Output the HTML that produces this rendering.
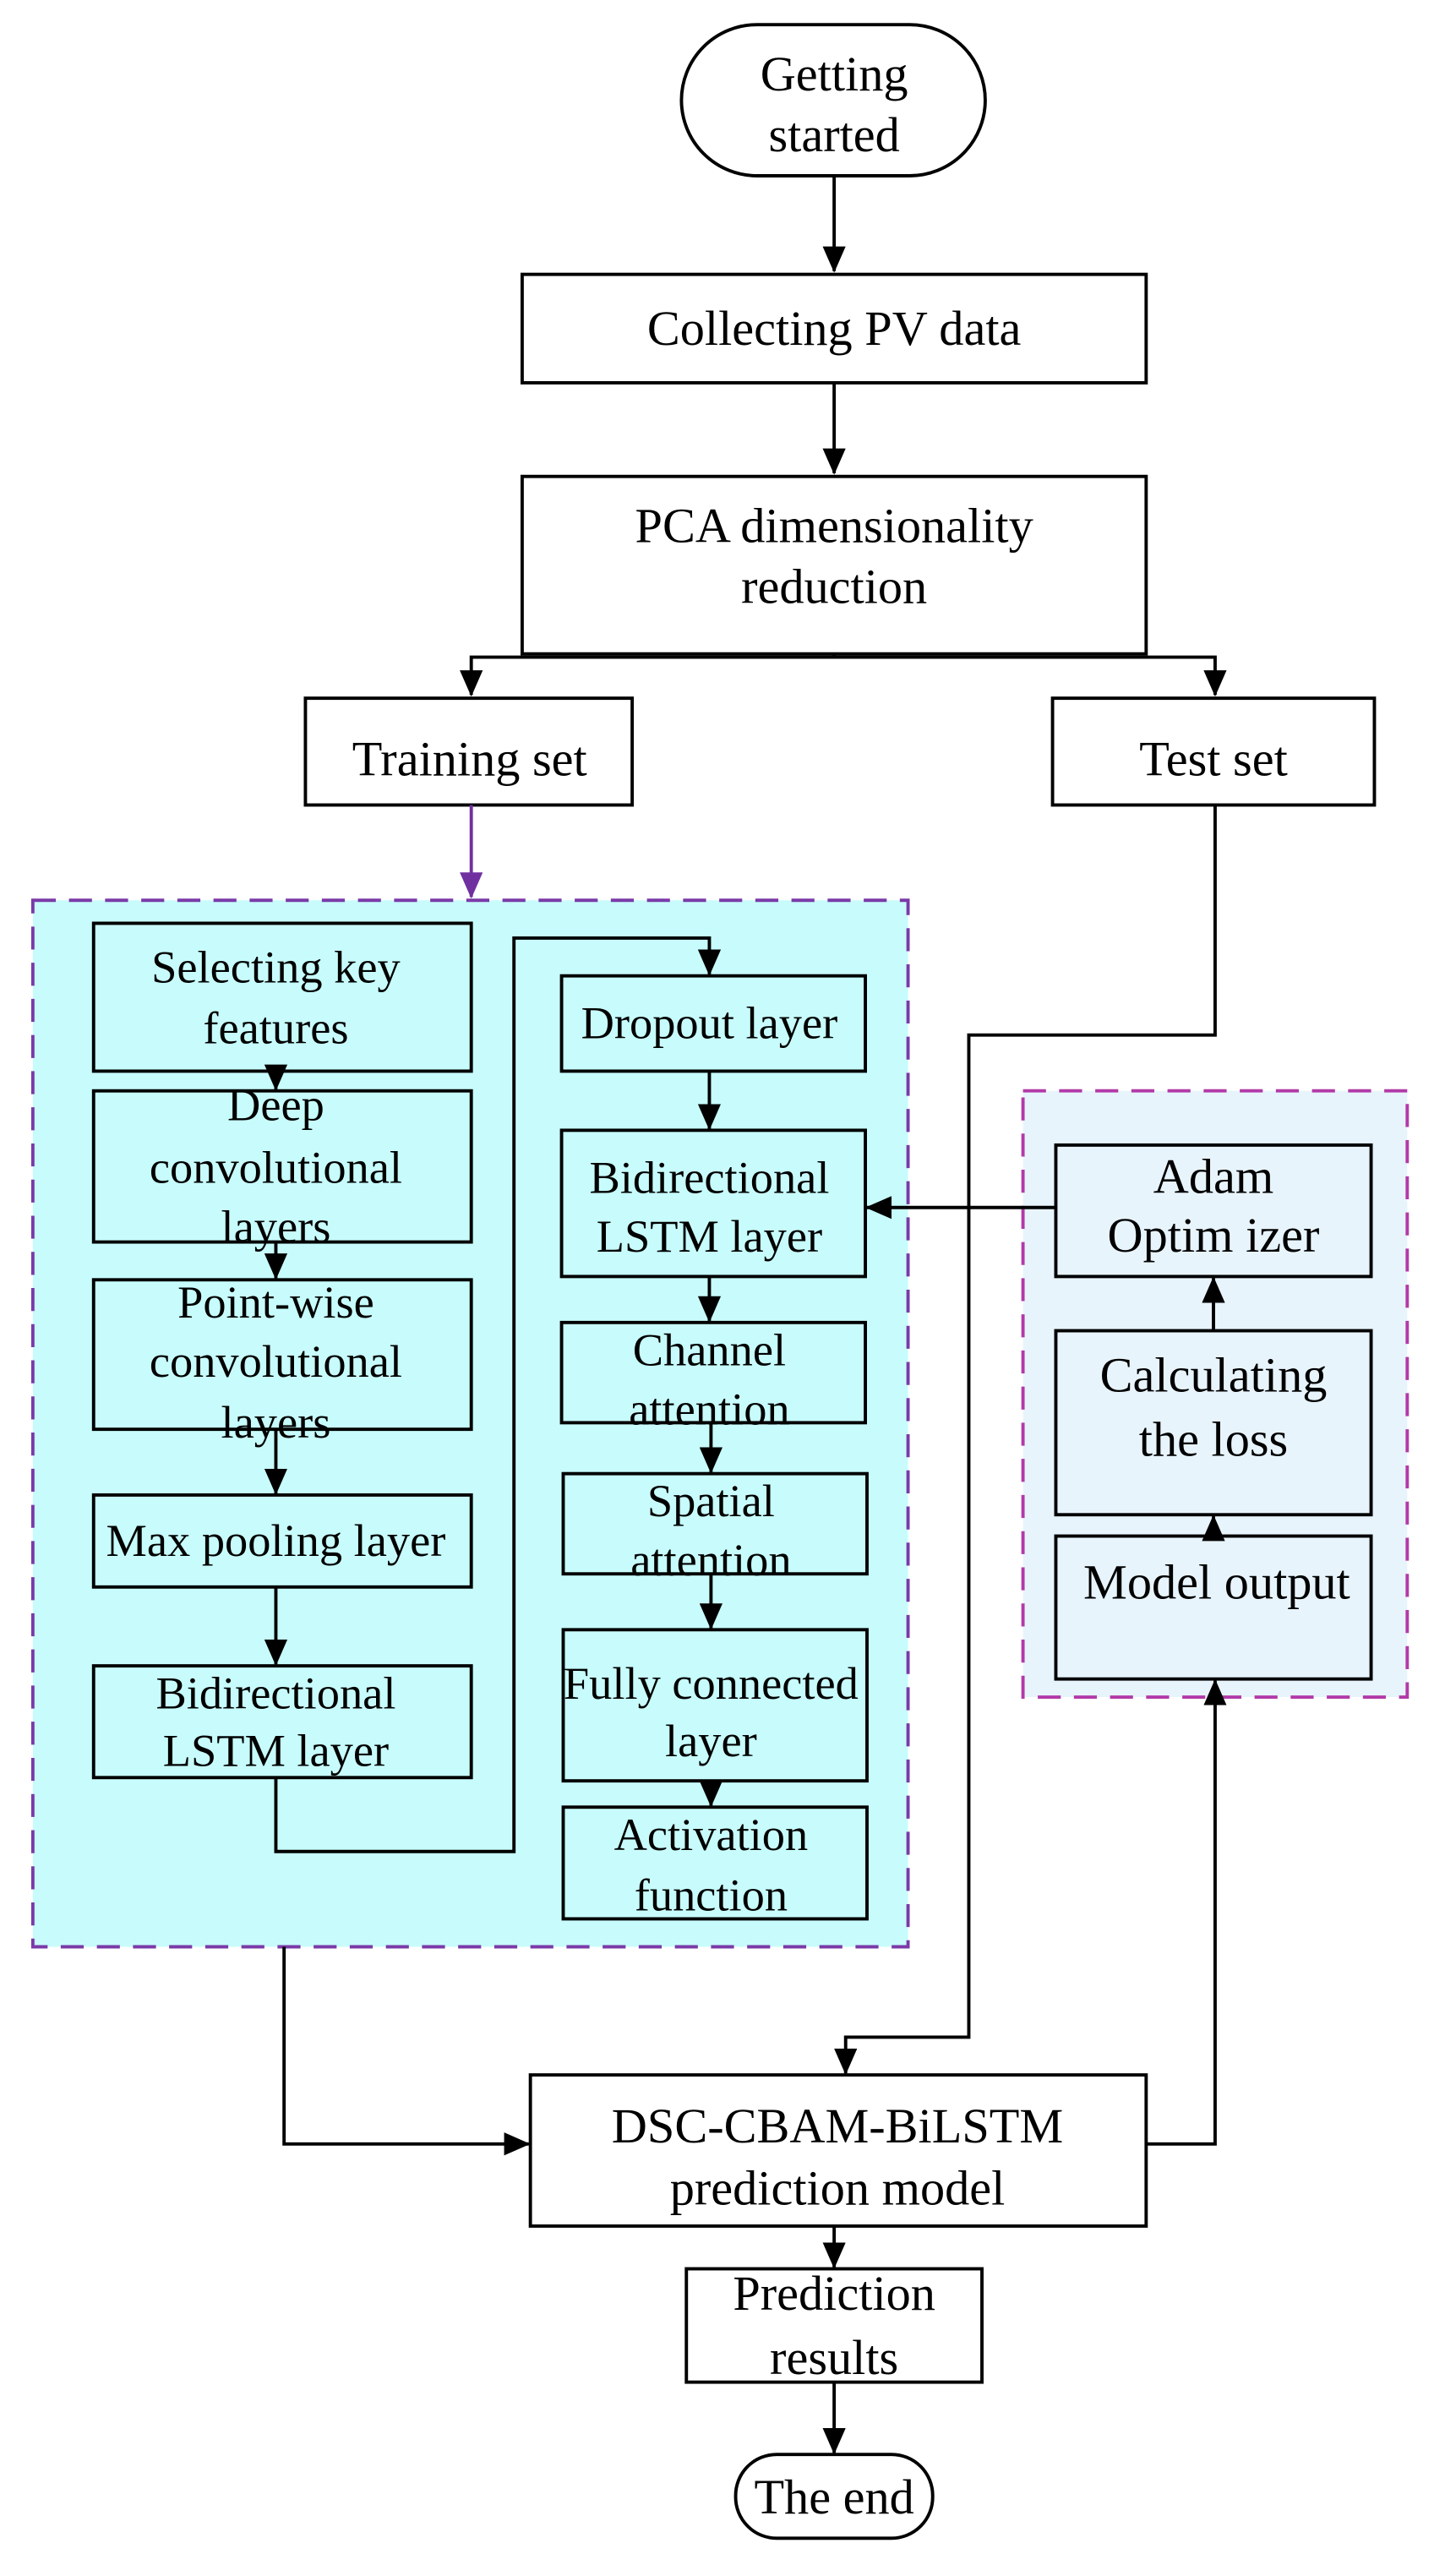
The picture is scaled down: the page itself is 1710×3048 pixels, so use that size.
<!DOCTYPE html>
<html><head><meta charset="utf-8"><style>
html,body{margin:0;padding:0;background:#fff;}
svg{display:block;}
text{font-family:"Liberation Serif",serif;fill:#000;text-anchor:middle;}
</style></head><body>
<svg width="1710" height="3048" viewBox="0 0 880 1568" preserveAspectRatio="none" xmlns="http://www.w3.org/2000/svg">
<defs>
<marker id="a" markerWidth="16" markerHeight="14" refX="15" refY="7" orient="auto" markerUnits="userSpaceOnUse"><path d="M0,0 L16,7 L0,14 z" fill="#000"/></marker>
<marker id="ap" markerWidth="16" markerHeight="14" refX="15" refY="7" orient="auto" markerUnits="userSpaceOnUse"><path d="M0,0 L16,7 L0,14 z" fill="#7030a0"/></marker>
</defs>
<g stroke="#000" stroke-width="2" fill="none">
<rect x="20" y="548" width="533" height="637" fill="#c8fcfc" stroke="#7a3aa8" stroke-dasharray="14,8"/>
<rect x="623" y="664" width="234" height="369" fill="#e8f4fc" stroke="#b23aa8" stroke-dasharray="14,8"/>
<rect x="415" y="15" width="185" height="92" rx="46" fill="#fff"/>
<rect x="318" y="167" width="380" height="66" fill="#fff"/>
<rect x="318" y="290" width="380" height="108" fill="#fff"/>
<rect x="186" y="425" width="199" height="65" fill="#fff"/>
<rect x="641" y="425" width="196" height="65" fill="#fff"/>
<rect x="323" y="1263" width="375" height="92" fill="#fff"/>
<rect x="418" y="1381" width="180" height="69" fill="#fff"/>
<rect x="448" y="1494" width="120" height="51" rx="25" fill="#fff"/>
<rect x="57" y="562" width="230" height="90" fill="#c8fcfc"/>
<rect x="57" y="664" width="230" height="92" fill="#c8fcfc"/>
<rect x="57" y="779" width="230" height="91" fill="#c8fcfc"/>
<rect x="57" y="910" width="230" height="56" fill="#c8fcfc"/>
<rect x="57" y="1014" width="230" height="68" fill="#c8fcfc"/>
<rect x="342" y="594" width="185" height="58" fill="#c8fcfc"/>
<rect x="342" y="688" width="185" height="89" fill="#c8fcfc"/>
<rect x="342" y="805" width="185" height="61" fill="#c8fcfc"/>
<rect x="343" y="897" width="185" height="61" fill="#c8fcfc"/>
<rect x="343" y="992" width="185" height="92" fill="#c8fcfc"/>
<rect x="343" y="1100" width="185" height="68" fill="#c8fcfc"/>
<rect x="643" y="697" width="192" height="80" fill="#e8f4fc"/>
<rect x="643" y="810" width="192" height="112" fill="#e8f4fc"/>
<rect x="643" y="935" width="192" height="87" fill="#e8f4fc"/>
<line x1="508" y1="107" x2="508" y2="165" marker-end="url(#a)"/>
<line x1="508" y1="233" x2="508" y2="288" marker-end="url(#a)"/>
<polyline points="508,398 508,400 287,400 287,423" marker-end="url(#a)"/>
<polyline points="508,400 740,400 740,423" marker-end="url(#a)"/>
<line x1="287" y1="490" x2="287" y2="546" stroke="#7030a0" marker-end="url(#ap)"/>
<line x1="168" y1="652" x2="168" y2="663" marker-end="url(#a)"/>
<line x1="168" y1="756" x2="168" y2="778" marker-end="url(#a)"/>
<line x1="168" y1="870" x2="168" y2="909" marker-end="url(#a)"/>
<line x1="168" y1="966" x2="168" y2="1013" marker-end="url(#a)"/>
<polyline points="168,1082 168,1127 313,1127 313,571 432,571 432,593" marker-end="url(#a)"/>
<line x1="432" y1="652" x2="432" y2="687" marker-end="url(#a)"/>
<line x1="432" y1="777" x2="432" y2="804" marker-end="url(#a)"/>
<line x1="433" y1="866" x2="433" y2="896" marker-end="url(#a)"/>
<line x1="433" y1="958" x2="433" y2="991" marker-end="url(#a)"/>
<line x1="433" y1="1084" x2="433" y2="1099" marker-end="url(#a)"/>
<line x1="643" y1="735" x2="528" y2="735" marker-end="url(#a)"/>
<line x1="739" y1="810" x2="739" y2="778" marker-end="url(#a)"/>
<line x1="739" y1="935" x2="739" y2="923" marker-end="url(#a)"/>
<polyline points="740,490 740,630 590,630 590,1240 515,1240 515,1262" marker-end="url(#a)"/>
<polyline points="173,1185 173,1305 322,1305" marker-end="url(#a)"/>
<polyline points="698,1305 740,1305 740,1023" marker-end="url(#a)"/>
<line x1="508" y1="1355" x2="508" y2="1380" marker-end="url(#a)"/>
<line x1="508" y1="1450" x2="508" y2="1493" marker-end="url(#a)"/>
</g>
<g font-size="30">
<text x="508" y="55">Getting</text><text x="508" y="92">started</text>
<text x="508" y="210">Collecting PV data</text>
<text x="508" y="330">PCA dimensionality</text><text x="508" y="367">reduction</text>
<text x="286" y="472">Training set</text>
<text x="739" y="472">Test set</text>
<text x="510" y="1304">DSC-CBAM-BiLSTM</text><text x="510" y="1342">prediction model</text>
<text x="508" y="1406">Prediction</text><text x="508" y="1445">results</text>
<text x="508" y="1530">The end</text>
<text x="739" y="726">Adam</text><text x="739" y="762">Optim izer</text>
<text x="739" y="847">Calculating</text><text x="739" y="886">the loss</text>
<text x="741" y="973">Model output</text>
</g>
<g font-size="28">
<text x="168" y="598">Selecting key</text><text x="168" y="635">features</text>
<text x="168" y="682">Deep</text><text x="168" y="720">convolutional</text><text x="168" y="756">layers</text>
<text x="168" y="802">Point-wise</text><text x="168" y="838">convolutional</text><text x="168" y="875">layers</text>
<text x="168" y="947">Max pooling layer</text>
<text x="168" y="1040">Bidirectional</text><text x="168" y="1075">LSTM layer</text>
<text x="432" y="632">Dropout layer</text>
<text x="432" y="726">Bidirectional</text><text x="432" y="762">LSTM layer</text>
<text x="432" y="831">Channel</text><text x="432" y="867">attention</text>
<text x="433" y="923">Spatial</text><text x="433" y="959">attention</text>
<text x="433" y="1034">Fully connected</text><text x="433" y="1069">layer</text>
<text x="433" y="1126">Activation</text><text x="433" y="1163">function</text>
</g>
</svg>
</body></html>
